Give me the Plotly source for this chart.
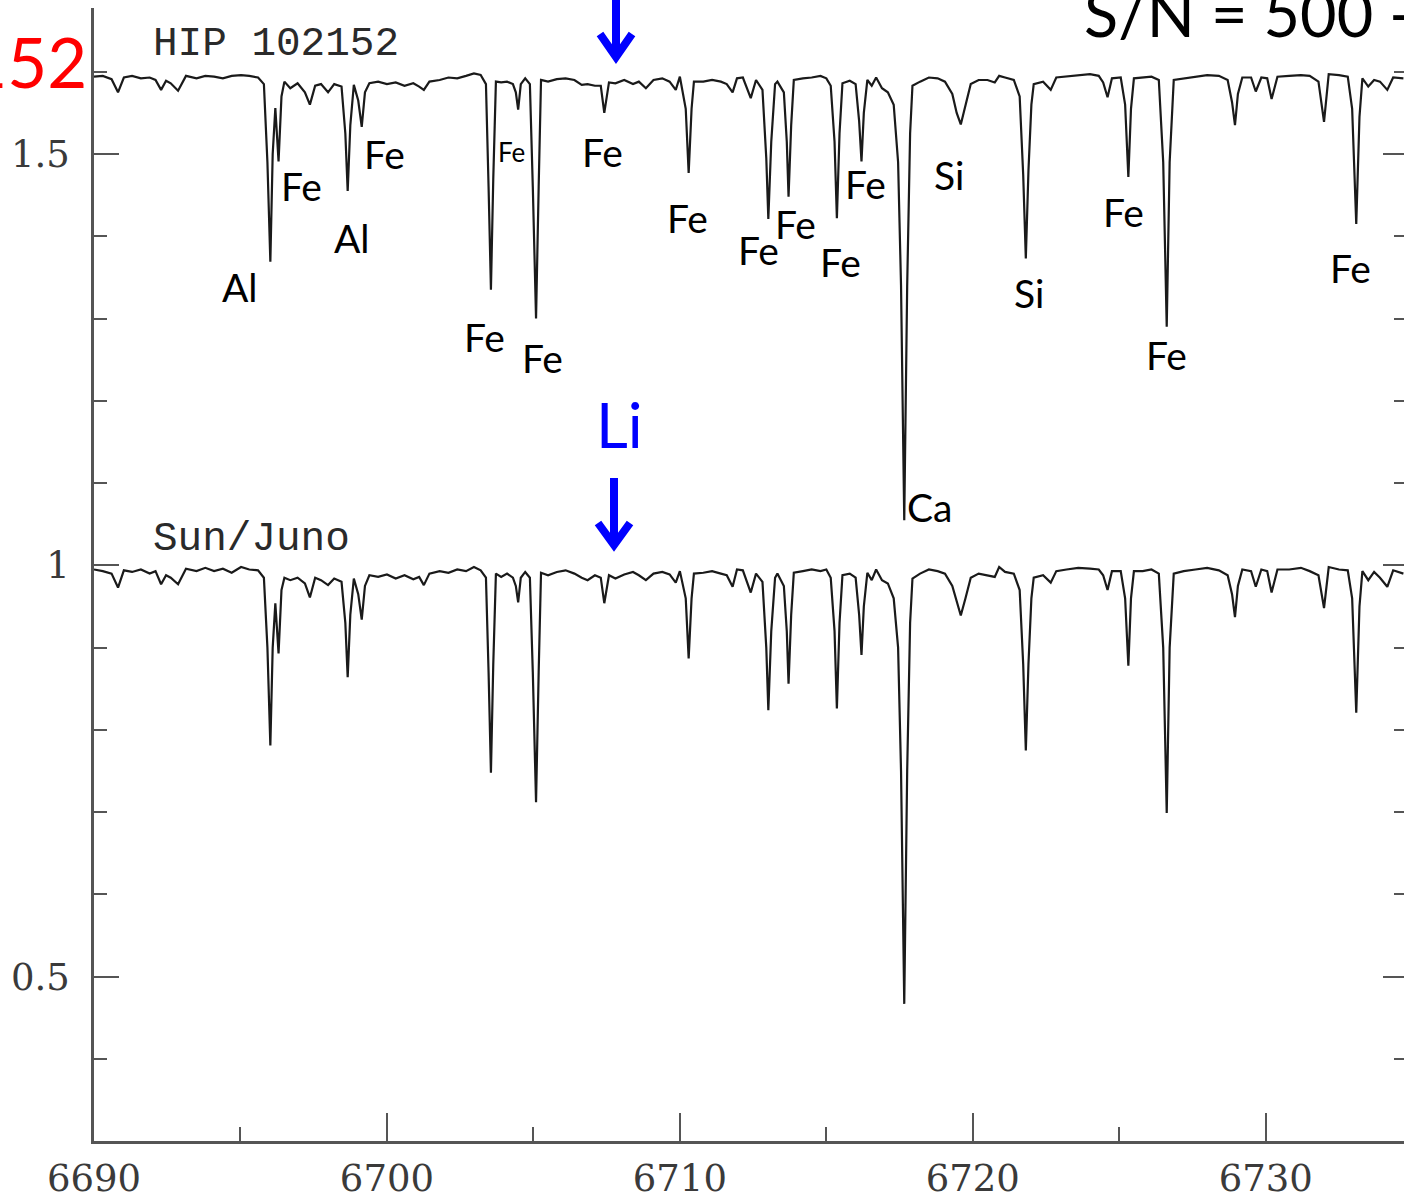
import plotly.graph_objects as go

# ---------------- data ----------------
wavelength = [
    6690.00, 6690.30, 6690.60, 6690.82, 6691.02, 6691.30, 6691.60, 6691.90, 6692.10, 6692.29,
    6692.46, 6692.62, 6692.87, 6693.14, 6693.50, 6693.80, 6694.10, 6694.40, 6694.70, 6695.02,
    6695.30, 6695.60, 6695.80, 6695.92, 6696.02, 6696.10, 6696.19, 6696.30, 6696.40, 6696.50,
    6696.70, 6696.95, 6697.20, 6697.37, 6697.55, 6697.75, 6697.99, 6698.20, 6698.45, 6698.58,
    6698.66, 6698.75, 6698.87, 6699.02, 6699.14, 6699.25, 6699.40, 6699.70, 6700.00, 6700.30,
    6700.60, 6700.90, 6701.10, 6701.26, 6701.45, 6701.80, 6702.10, 6702.40, 6702.70, 6702.97,
    6703.20, 6703.38, 6703.47, 6703.55, 6703.63, 6703.72, 6703.90, 6704.10, 6704.30, 6704.40,
    6704.48, 6704.57, 6704.72, 6704.88, 6704.98, 6705.09, 6705.18, 6705.26, 6705.50, 6705.80,
    6706.10, 6706.40, 6706.65, 6706.85, 6707.10, 6707.30, 6707.42, 6707.58, 6707.80, 6708.10,
    6708.40, 6708.60, 6708.84, 6709.10, 6709.40, 6709.65, 6709.86, 6710.00, 6710.20, 6710.30,
    6710.40, 6710.48, 6710.80, 6711.10, 6711.40, 6711.60, 6711.80, 6711.95, 6712.15, 6712.42,
    6712.60, 6712.82, 6712.95, 6713.02, 6713.12, 6713.25, 6713.33, 6713.55, 6713.65, 6713.71,
    6713.80, 6713.89, 6714.20, 6714.50, 6714.80, 6715.00, 6715.15, 6715.28, 6715.36, 6715.45,
    6715.55, 6715.80, 6716.00, 6716.12, 6716.20, 6716.28, 6716.40, 6716.55, 6716.70, 6716.90,
    6717.10, 6717.30, 6717.45, 6717.55, 6717.66, 6717.76, 6717.86, 6717.94, 6718.20, 6718.50,
    6718.80, 6719.05, 6719.30, 6719.45, 6719.59, 6719.75, 6719.93, 6720.20, 6720.50, 6720.75,
    6720.90, 6721.10, 6721.40, 6721.60, 6721.72, 6721.81, 6721.90, 6722.00, 6722.08, 6722.40,
    6722.66, 6722.85, 6723.20, 6723.60, 6724.00, 6724.30, 6724.45, 6724.60, 6724.75, 6725.05,
    6725.20, 6725.31, 6725.40, 6725.50, 6725.80, 6726.10, 6726.35, 6726.50, 6726.62, 6726.72,
    6726.86, 6727.20, 6727.60, 6728.00, 6728.40, 6728.70, 6728.85, 6728.95, 6729.05, 6729.20,
    6729.50, 6729.66, 6729.85, 6730.05, 6730.20, 6730.40, 6730.80, 6731.20, 6731.50, 6731.80,
    6731.99, 6732.15, 6732.50, 6732.80, 6732.95, 6733.09, 6733.20, 6733.30, 6733.50, 6733.70,
    6733.90, 6734.15, 6734.35, 6734.70,
]

sun_flux = [
    0.995, 0.993, 0.990, 0.973, 0.994, 0.992, 0.995, 0.990, 0.993, 0.977,
    0.988, 0.985, 0.977, 0.996, 0.993, 0.997, 0.993, 0.996, 0.991, 0.998,
    0.995, 0.994, 0.985, 0.900, 0.781, 0.900, 0.954, 0.893, 0.970, 0.985,
    0.982, 0.985, 0.978, 0.961, 0.985, 0.982, 0.976, 0.984, 0.980, 0.930,
    0.864, 0.940, 0.984, 0.965, 0.934, 0.975, 0.988, 0.986, 0.989, 0.984,
    0.988, 0.983, 0.986, 0.976, 0.990, 0.993, 0.991, 0.995, 0.993, 0.998,
    0.994, 0.985, 0.870, 0.748, 0.880, 0.990, 0.986, 0.990, 0.985, 0.975,
    0.955, 0.985, 0.992, 0.985, 0.870, 0.712, 0.870, 0.991, 0.988, 0.992,
    0.994, 0.990, 0.985, 0.982, 0.988, 0.985, 0.954, 0.988, 0.984, 0.989,
    0.992, 0.988, 0.982, 0.990, 0.992, 0.989, 0.979, 0.993, 0.960, 0.887,
    0.960, 0.990, 0.991, 0.993, 0.990, 0.988, 0.974, 0.995, 0.994, 0.967,
    0.990, 0.980, 0.900, 0.824, 0.920, 0.985, 0.990, 0.975, 0.920, 0.856,
    0.940, 0.991, 0.993, 0.995, 0.993, 0.995, 0.985, 0.920, 0.826, 0.930,
    0.988, 0.990, 0.985, 0.940, 0.891, 0.950, 0.991, 0.982, 0.995, 0.982,
    0.978, 0.960, 0.900, 0.750, 0.467, 0.750, 0.930, 0.984, 0.990, 0.995,
    0.993, 0.990, 0.975, 0.955, 0.939, 0.960, 0.985, 0.990, 0.988, 0.986,
    0.998, 0.992, 0.990, 0.970, 0.880, 0.775, 0.880, 0.960, 0.985, 0.988,
    0.979, 0.993, 0.995, 0.997, 0.996, 0.995, 0.988, 0.970, 0.993, 0.993,
    0.960, 0.878, 0.960, 0.993, 0.993, 0.995, 0.990, 0.900, 0.699, 0.900,
    0.990, 0.993, 0.995, 0.997, 0.994, 0.988, 0.965, 0.937, 0.975, 0.995,
    0.993, 0.974, 0.995, 0.993, 0.967, 0.995, 0.995, 0.997, 0.993, 0.988,
    0.948, 0.998, 0.995, 0.994, 0.960, 0.821, 0.950, 0.993, 0.982, 0.992,
    0.985, 0.974, 0.994, 0.990,
]

hip_flux = [
    0.994, 0.995, 0.991, 0.975, 0.993, 0.995, 0.992, 0.993, 0.990, 0.978,
    0.989, 0.986, 0.977, 0.995, 0.992, 0.995, 0.994, 0.992, 0.995, 0.996,
    0.995, 0.993, 0.985, 0.890, 0.769, 0.900, 0.956, 0.891, 0.970, 0.988,
    0.980, 0.986, 0.975, 0.960, 0.983, 0.985, 0.975, 0.985, 0.982, 0.925,
    0.855, 0.935, 0.984, 0.965, 0.933, 0.975, 0.986, 0.988, 0.985, 0.987,
    0.983, 0.986, 0.982, 0.978, 0.988, 0.990, 0.993, 0.992, 0.995, 0.998,
    0.996, 0.985, 0.860, 0.735, 0.870, 0.988, 0.987, 0.988, 0.985, 0.975,
    0.954, 0.985, 0.992, 0.985, 0.860, 0.700, 0.860, 0.990, 0.988, 0.991,
    0.992, 0.990, 0.984, 0.985, 0.983, 0.983, 0.950, 0.987, 0.986, 0.990,
    0.985, 0.988, 0.980, 0.990, 0.992, 0.988, 0.978, 0.994, 0.955, 0.877,
    0.955, 0.988, 0.988, 0.990, 0.988, 0.985, 0.975, 0.992, 0.993, 0.968,
    0.990, 0.978, 0.895, 0.821, 0.915, 0.985, 0.988, 0.975, 0.915, 0.848,
    0.935, 0.990, 0.992, 0.993, 0.995, 0.992, 0.983, 0.915, 0.822, 0.925,
    0.986, 0.989, 0.985, 0.940, 0.891, 0.950, 0.990, 0.983, 0.993, 0.980,
    0.975, 0.960, 0.890, 0.740, 0.455, 0.740, 0.925, 0.983, 0.988, 0.993,
    0.992, 0.988, 0.973, 0.950, 0.936, 0.958, 0.985, 0.990, 0.990, 0.987,
    0.995, 0.993, 0.990, 0.970, 0.875, 0.773, 0.880, 0.960, 0.985, 0.988,
    0.978, 0.993, 0.994, 0.996, 0.997, 0.995, 0.987, 0.969, 0.992, 0.993,
    0.960, 0.872, 0.955, 0.992, 0.993, 0.994, 0.990, 0.890, 0.690, 0.890,
    0.990, 0.992, 0.994, 0.996, 0.995, 0.990, 0.963, 0.935, 0.973, 0.993,
    0.993, 0.976, 0.993, 0.992, 0.967, 0.994, 0.995, 0.996, 0.995, 0.988,
    0.939, 0.997, 0.996, 0.994, 0.955, 0.815, 0.945, 0.992, 0.982, 0.990,
    0.988, 0.978, 0.993, 0.992,
]

HIP_OFFSET = 0.6

x_range = [6690, 6734.72]
y_range = [0.3003, 1.6775]

# ---------------- helpers (pixel -> paper) ----------------
W, H = 1404, 1195
ML, MR, MT, MB = 94, 0, 8, 54
PW, PH = W - ML - MR, H - MT - MB


def px(x):
    return (x - ML) / PW


def py(y):
    return (H - MB - y) / PH


hip_display = [f + HIP_OFFSET for f in hip_flux]

fig = go.Figure()
fig.add_trace(go.Scatter(x=wavelength, y=hip_display, mode="lines",
                         line=dict(color="#1a1a1a", width=2.2),
                         showlegend=False, hoverinfo="skip"))
fig.add_trace(go.Scatter(x=wavelength, y=sun_flux, mode="lines",
                         line=dict(color="#1a1a1a", width=2.2),
                         showlegend=False, hoverinfo="skip"))
# empty trace so the right-hand mirror axis is created
fig.add_trace(go.Scatter(x=[], y=[], yaxis="y2", showlegend=False, hoverinfo="skip"))

tick_font = dict(family="DejaVu Serif", size=37, color="#3a3a3a")
axis_col = "#555555"

fig.update_layout(
    width=W, height=H,
    margin=dict(l=ML, r=MR, t=MT, b=MB, autoexpand=False),
    paper_bgcolor="white", plot_bgcolor="white",
    showlegend=False,
    xaxis=dict(range=x_range, tick0=6690, dtick=10, ticks="inside", ticklen=28,
               tickwidth=2, tickcolor=axis_col, showline=True, linewidth=2.5,
               linecolor=axis_col, showgrid=False, zeroline=False, automargin=False,
               tickfont=tick_font, ticklabelstandoff=3,
               minor=dict(dtick=5, ticks="inside", ticklen=14, tickwidth=2,
                          tickcolor=axis_col, showgrid=False)),
    yaxis=dict(range=y_range, tick0=0.5, dtick=0.5, ticks="inside", ticklen=25,
               tickwidth=2, tickcolor=axis_col, showline=True, linewidth=2.5,
               linecolor=axis_col, showgrid=False, zeroline=False, automargin=False,
               tickfont=tick_font, ticklabelstandoff=14,
               minor=dict(dtick=0.1, ticks="inside", ticklen=13, tickwidth=2,
                          tickcolor=axis_col, showgrid=False)),
    yaxis2=dict(range=y_range, overlaying="y", side="right", tick0=0.5, dtick=0.5,
                ticks="inside", ticklen=21, tickwidth=2, tickcolor=axis_col,
                showline=False, showgrid=False, zeroline=False, showticklabels=False,
                automargin=False,
                minor=dict(dtick=0.1, ticks="inside", ticklen=10, tickwidth=2,
                           tickcolor=axis_col, showgrid=False)),
)

annotations = []


def label(text, x, y, size=39, color="black", family="Lato", xanchor="center"):
    annotations.append(dict(text=text, x=px(x), y=py(y), xref="paper", yref="paper",
                            xanchor=xanchor, yanchor="middle", showarrow=False,
                            font=dict(family=family, size=size, color=color)))


# element labels (pixel centres)
element_labels = [
    ("Fe", 384, 154), ("Fe", 301, 186), ("Al", 352, 238), ("Al", 240, 287),
    ("Fe", 602, 152), ("Fe", 687, 218), ("Fe", 758, 250), ("Fe", 795, 224),
    ("Fe", 840, 262), ("Fe", 865, 184), ("Si", 949, 175), ("Si", 1029, 293),
    ("Fe", 1123, 212), ("Fe", 1350, 268), ("Fe", 1166, 355), ("Fe", 484, 337),
    ("Fe", 542, 358), ("Ca", 929, 507),
]
for t, x, y in element_labels:
    label(t, x, y)
label("Fe", 511, 152, size=26)

# spectrum names
label("HIP 102152", 151, 44, size=41, color="#2a2a2a", family="Liberation Mono", xanchor="left")
label("Sun/Juno", 151, 539, size=41, color="#2a2a2a", family="Liberation Mono", xanchor="left")

# slide overlays
label("HIP 102152", 89, 61, size=69, color="#ff0000", xanchor="right")
label("S/N = 500 -", 1082, 13, size=63, color="black", xanchor="left")
label("Li", 619, 424, size=62, color="#0000ff")

fig.update_layout(annotations=annotations)

blue = "#0000ff"
shapes = []


def seg_path(points):
    d = "M " + " L ".join(f"{px(a):.5f},{py(b):.5f}" for a, b in points)
    return d


# top arrow
shapes.append(dict(type="path", xref="paper", yref="paper",
                   path=seg_path([(616, -10), (616, 58)]),
                   line=dict(color=blue, width=8)))
shapes.append(dict(type="path", xref="paper", yref="paper",
                   path=seg_path([(600, 34), (616, 57), (632, 34)]),
                   line=dict(color=blue, width=8)))
# lower arrow
shapes.append(dict(type="path", xref="paper", yref="paper",
                   path=seg_path([(614, 478), (614, 545)]),
                   line=dict(color=blue, width=8)))
shapes.append(dict(type="path", xref="paper", yref="paper",
                   path=seg_path([(598, 523), (614, 545), (630, 523)]),
                   line=dict(color=blue, width=8)))

fig.update_layout(shapes=shapes)

fig.write_html("out.html")
